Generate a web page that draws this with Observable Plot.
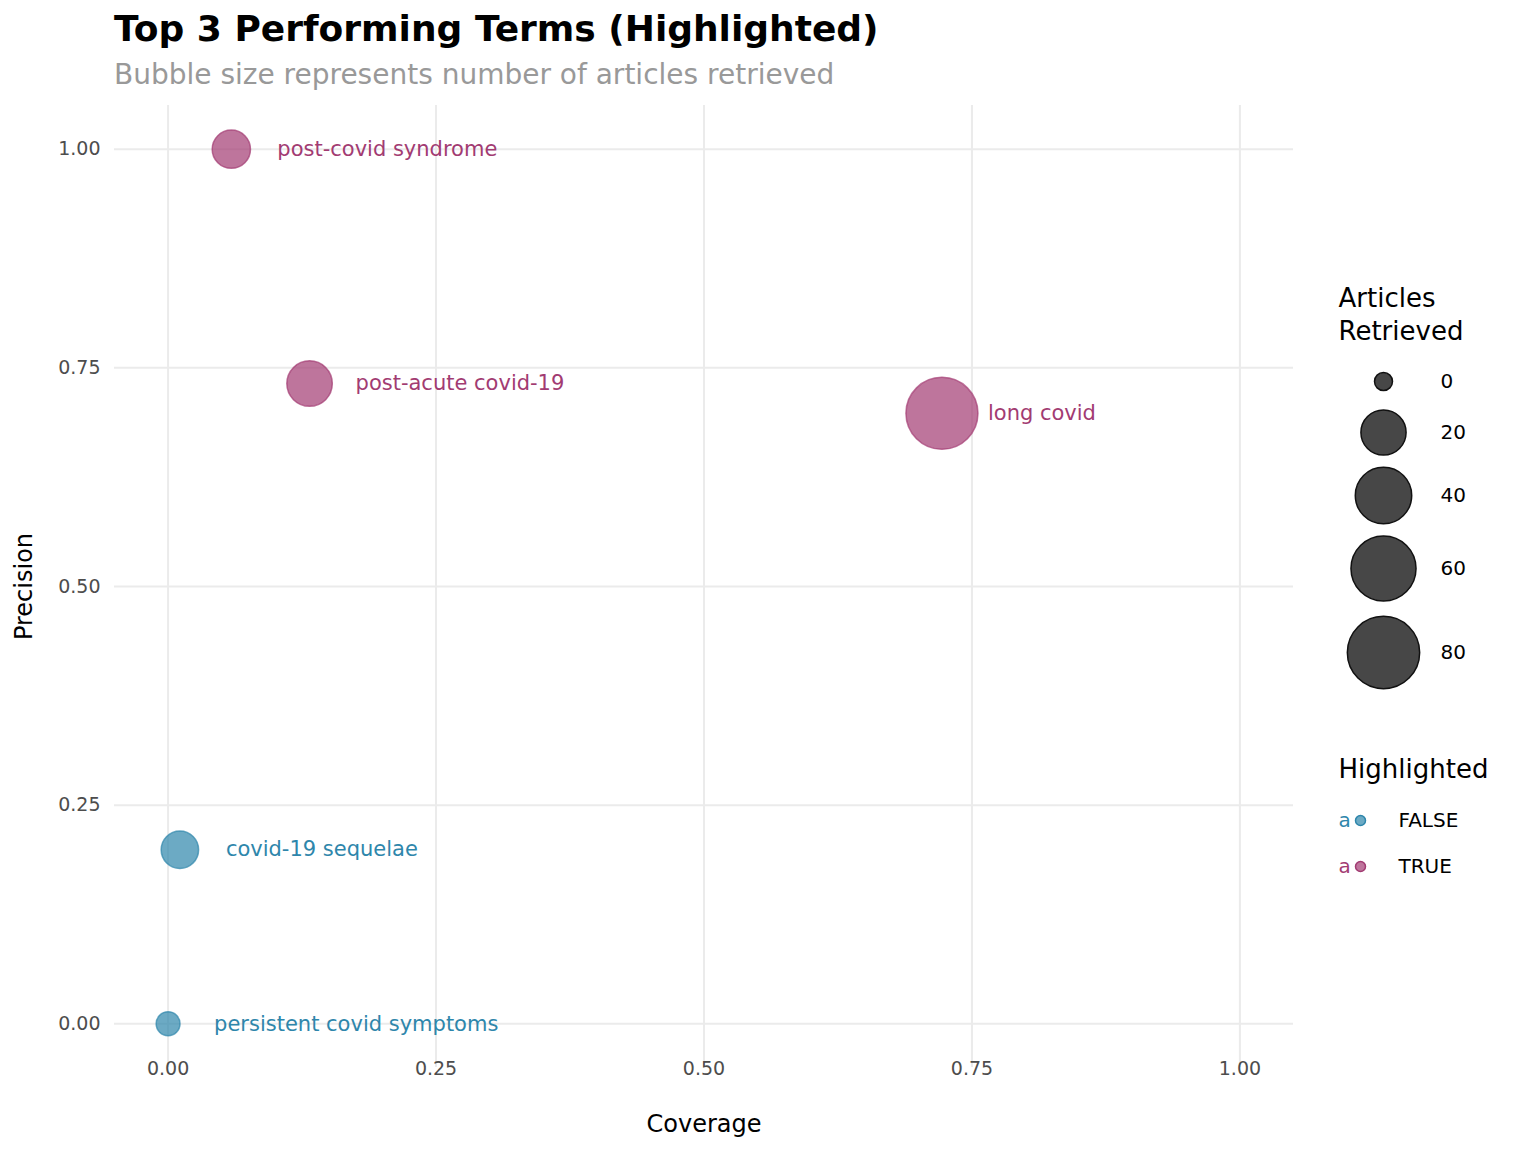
<!DOCTYPE html>
<html><head><meta charset="utf-8">
<script src="https://cdn.jsdelivr.net/npm/d3@7"></script>
<script src="https://cdn.jsdelivr.net/npm/@observablehq/plot@0.6"></script>
<style>
body{margin:0;background:#fff;font-family:"DejaVu Sans",sans-serif;overflow:hidden;}
#wrap{position:relative;width:1536px;height:1152px;}
#title{position:absolute;left:114px;top:8px;font-size:36px;font-weight:bold;color:#000;white-space:nowrap;}
#sub{position:absolute;left:114px;top:58px;font-size:28px;color:#999;white-space:nowrap;}
#main{position:absolute;left:0;top:0;}
#leg{position:absolute;left:1300px;top:280px;}
</style></head><body>
<div id="wrap"><div id="main"></div><div id="leg"></div>
<div id="title">Top 3 Performing Terms (Highlighted)</div>
<div id="sub">Bubble size represents number of articles retrieved</div></div>
<script>
const terms = ["post-covid syndrome","post-acute covid-19","long covid","covid-19 sequelae","persistent covid symptoms"];
const coverage = [0.059,0.132,0.722,0.011,0.0];
const precision = [1.0,0.732,0.698,0.199,0.0];
const articles = [12,22,85,11,1];
const highlighted = [true,true,true,false,false];
const sizeBreaks = [0,20,40,60,80];
const colTrue = "#a23b72", colFalse = "#2e86ab";

const data = terms.map((t,i)=>({term:t,x:coverage[i],y:precision[i],n:articles[i],h:highlighted[i]}));
const rScale = {type:"pow",exponent:0.5,domain:[0,85],range:[9,36]};
const col = d=>d.h?colTrue:colFalse;
const ticks = [0,0.25,0.5,0.75,1];

const main = Plot.plot({
  width:1536,height:1152,marginLeft:114,marginRight:243,marginTop:105,marginBottom:85,
  style:{fontFamily:"DejaVu Sans",fontSize:"19px",background:"transparent"},
  x:{domain:[-0.05,1.05],axis:null},
  y:{domain:[-0.05,1.05],axis:null},
  r:rScale,
  marks:[
    Plot.gridX(ticks,{stroke:"#ebebeb",strokeOpacity:1,strokeWidth:2}),
    Plot.gridY(ticks,{stroke:"#ebebeb",strokeOpacity:1,strokeWidth:2}),
    Plot.axisX({ticks,tickFormat:d3.format(".2f"),tickSize:0,tickPadding:-6,fontSize:19,color:"#4d4d4d",label:null}),
    Plot.axisY({ticks,tickFormat:d3.format(".2f"),tickSize:0,tickPadding:14,fontSize:19,color:"#4d4d4d",label:null}),
    Plot.axisX({ticks:[],label:"Coverage",labelAnchor:"center",labelArrow:false,labelOffset:64,fontSize:24,color:"#000",tickSize:0}),
    Plot.axisY({ticks:[],label:"Precision",labelAnchor:"center",labelArrow:false,labelOffset:100,fontSize:24,color:"#000",tickSize:0}),
    Plot.dot(data,{x:"x",y:"y",r:"n",fill:col,fillOpacity:0.7,stroke:col,strokeOpacity:0.7}),
    Plot.text(data,{x:"x",y:"y",text:"term",fill:col,textAnchor:"start",dx:46,fontSize:21})
  ]
});
document.getElementById("main").append(main);

const legRows = sizeBreaks.map((v,i)=>({v,pos:[101,152,215,288,372][i]}));
const hiRows = [{lab:"FALSE",c:colFalse,pos:540},{lab:"TRUE",c:colTrue,pos:586}];
const leg = Plot.plot({
  width:230,height:620,margin:0,
  style:{fontFamily:"DejaVu Sans",background:"transparent"},
  x:{type:"identity",axis:null},y:{type:"identity",axis:null},r:{...rScale,range:[9,37]},
  marks:[
    Plot.text(["Articles","Retrieved"],{x:38,y:(d,i)=>18+i*33,text:d=>d,textAnchor:"start",fontSize:26,fill:"#000"}),
    Plot.dot(legRows,{x:83,y:"pos",r:"v",fill:"#333",fillOpacity:0.9,stroke:"#111"}),
    Plot.text(legRows,{x:140,y:"pos",text:"v",textAnchor:"start",fontSize:20,fill:"#000"}),
    Plot.text(["Highlighted"],{x:38,y:489,text:d=>d,textAnchor:"start",fontSize:26,fill:"#000"}),
    Plot.text(hiRows,{x:38,y:"pos",text:()=>"a",fill:"c",textAnchor:"start",fontSize:20}),
    Plot.dot(hiRows,{x:60,y:"pos",r:5,fill:"c",fillOpacity:0.7,stroke:"c"}),
    Plot.text(hiRows,{x:98,y:"pos",text:"lab",textAnchor:"start",fontSize:20,fill:"#000"})
  ]
});
document.getElementById("leg").append(leg);
</script></body></html>
